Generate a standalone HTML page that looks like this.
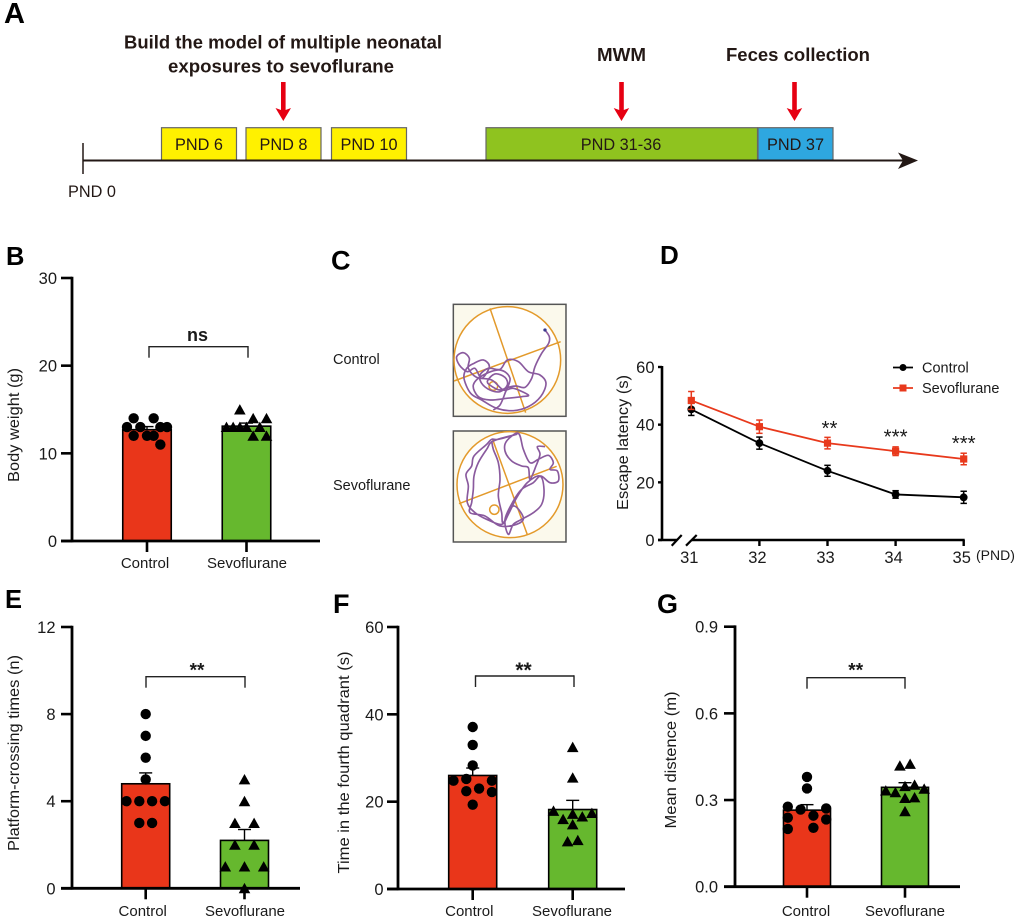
<!DOCTYPE html>
<html lang="en">
<head>
<meta charset="utf-8">
<title>Multi-panel figure: neonatal sevoflurane exposure</title>
<style>
html,body{margin:0;padding:0;background:#fff;}
svg{display:block;font-family:"Liberation Sans",Arial,sans-serif;}
text{fill:#1a1a1a;}
#panel-a text{fill:#231815;}
#panel-labels text{fill:#000;}
</style>
</head>
<body>
<svg id="figure" width="1020" height="920" viewBox="0 0 1020 920" xmlns="http://www.w3.org/2000/svg">
  <rect width="1020" height="920" fill="#fff"/>

  <g id="panel-labels" font-weight="700">
    <text x="4" y="23" font-size="29">A</text>
    <text x="6" y="265" font-size="25.5">B</text>
    <text x="331" y="269.5" font-size="27">C</text>
    <text x="660" y="264" font-size="26">D</text>
    <text x="5" y="608" font-size="25.5">E</text>
    <text x="333" y="613" font-size="27">F</text>
    <text x="657" y="613" font-size="27">G</text>
  </g>

  <g id="panel-a">
    <rect x="161.5" y="127.7" width="75" height="33" fill="#fff100" stroke="#666" stroke-width="1.2"/>
    <rect x="246" y="127.7" width="75" height="33" fill="#fff100" stroke="#666" stroke-width="1.2"/>
    <rect x="331.5" y="127.7" width="75" height="33" fill="#fff100" stroke="#666" stroke-width="1.2"/>
    <rect x="486" y="127.7" width="271.5" height="33" fill="#8fc31f" stroke="#666" stroke-width="1.2"/>
    <rect x="758" y="127.7" width="75" height="33" fill="#2ea7e0" stroke="#666" stroke-width="1.2"/>
    <line x1="83" y1="160.5" x2="905" y2="160.5" stroke="#231815" stroke-width="2"/>
    <line x1="83" y1="143" x2="83" y2="174" stroke="#231815" stroke-width="1.5"/>
    <polygon points="898,152.5 918,160.5 898,169 903,160.5" fill="#231815"/>
    <g font-size="16.3" text-anchor="middle">
      <text x="199" y="150">PND 6</text>
      <text x="283.5" y="150">PND 8</text>
      <text x="369" y="150">PND 10</text>
      <text x="621" y="150">PND 31-36</text>
      <text x="795.5" y="150">PND 37</text>
      <text x="92" y="197">PND 0</text>
    </g>
    <g font-size="18.5" font-weight="700">
      <text x="124" y="48.5" textLength="318" lengthAdjust="spacingAndGlyphs">Build the model of multiple neonatal</text>
      <text x="168" y="72.5" textLength="226" lengthAdjust="spacingAndGlyphs">exposures to sevoflurane</text>
      <text x="597" y="61" textLength="49" lengthAdjust="spacingAndGlyphs">MWM</text>
      <text x="726" y="61" textLength="144" lengthAdjust="spacingAndGlyphs">Feces collection</text>
    </g>
    <polygon points="281,82 285.6,82 285.6,110 291,108 283.3,121 275.5,108 281,110" fill="#e60012"/>
    <polygon points="619.2,82 623.8,82 623.8,110 629.2,108 621.5,121 613.7,108 619.2,110" fill="#e60012"/>
    <polygon points="792.2,82 796.8,82 796.8,110 802.2,108 794.5,121 786.7,108 792.2,110" fill="#e60012"/>
  </g>

  <g id="panel-c">
    <text x="333" y="364" font-size="14.5">Control</text>
    <text x="333" y="490" font-size="14.5">Sevoflurane</text>

    <g transform="translate(450,300) scale(0.3333)">
      <rect x="10" y="13" width="338" height="336" fill="#fbf9ec" stroke="#555" stroke-width="4.5"/>
      <circle cx="172" cy="180" r="160" fill="#fff" stroke="#e39a2b" stroke-width="4.5"/>
      <line x1="120" y1="25" x2="227" y2="338" stroke="#e39a2b" stroke-width="4.5"/>
      <line x1="12" y1="243" x2="332" y2="125" stroke="#e39a2b" stroke-width="4.5"/>
      <circle cx="130" cy="258" r="13" fill="none" stroke="#e39a2b" stroke-width="4.5"/>
      <path id="track-control" fill="none" stroke="#8a5a9e" stroke-width="5" stroke-linejoin="round"/>
      <circle cx="285" cy="90" r="5" fill="#3a3a8c"/>
    </g>

    <g transform="translate(450,426) scale(0.3333)">
      <rect x="10" y="15" width="338" height="333" fill="#fbf9ec" stroke="#555" stroke-width="4.5"/>
      <circle cx="180" cy="176" r="159" fill="#fff" stroke="#e39a2b" stroke-width="4.5"/>
      <line x1="127" y1="38" x2="232" y2="326" stroke="#e39a2b" stroke-width="4.5"/>
      <line x1="27" y1="233" x2="320" y2="121" stroke="#e39a2b" stroke-width="4.5"/>
      <circle cx="133" cy="251" r="14" fill="none" stroke="#e39a2b" stroke-width="4.5"/>
      <path id="track-sevo" fill="none" stroke="#8a5a9e" stroke-width="5" stroke-linejoin="round"/>
    </g>
  </g>

  <g id="charts"></g>
</svg>

<script>
// Shared categories
const categories = ['Control', 'Sevoflurane'];

// Panel B: body weight
const bTicks = [0, 10, 20, 30];
const bMeans = [12.7, 13.1];
const bErrors = [0.35, 0.35];
const bControlPoints = [14, 14, 13, 13, 13, 13, 12, 12, 12, 11];
const bControlSlots = [-2, 1, -3, -1, 2, 3, -2, 0, 1, 2];
const bSevoPoints = [15, 14, 14, 13, 13, 13, 13, 13, 12, 12];
const bSevoSlots = [-1, 1, 3, -3, -2, -1, 0, 2, 1, 3];

// Panel D: escape latency
const dDays = ['31', '32', '33', '34', '35'];
const dTicks = [0, 20, 40, 60];
const dControl = [45.3, 33.6, 24, 15.8, 14.8];
const dControlErr = [2.1, 2.1, 1.9, 1.3, 2.1];
const dSevo = [48.4, 39.3, 33.6, 30.8, 28.1];
const dSevoErr = [3.1, 2.3, 2, 1.5, 2];
const dStars = ['', '', '**', '***', '***'];
const dStarHeights = [0, 0, 39, 36, 33.8];

// Panel E: platform crossings
const eTicks = [0, 4, 8, 12];
const eMeans = [4.8, 2.2];
const eErrors = [0.5, 0.5];
const eControlPoints = [8, 7, 6, 5, 4, 4, 4, 4, 3, 3];
const eControlSlots = [0, 0, 0, 0, -3, -1, 1, 3, -1, 1];
const eSevoPoints = [5, 4, 3, 3, 2, 2, 1, 1, 1, 0];
const eSevoSlots = [0, 0, -1.5, 1.5, -1.5, 1.5, -3, 0, 3, 0];

// Panel F: time in fourth quadrant
const fTicks = [0, 20, 40, 60];
const fMeans = [26, 18.2];
const fErrors = [1.7, 2.1];
const fControlPoints = [37.1, 33, 28.3, 24.8, 25.2, 24.8, 23, 22.4, 22.2, 19.3];
const fControlSlots = [0, 0, 0, -3, -1, 3, 1, -1, 3, 0];
const fSevoPoints = [32.5, 25.5, 17.9, 17.4, 17.2, 16.6, 16, 14.8, 10.9, 11.2];
const fSevoSlots = [0, 0, -3, 3, 0, 1.5, -1.5, 0, -0.8, 0.8];

// Panel G: mean distance
const gTicks = [0, 0.3, 0.6, 0.9];
const gTickLabels = ['0.0', '0.3', '0.6', '0.9'];
const gMeans = [0.265, 0.344];
const gErrors = [0.019, 0.016];
const gControlPoints = [0.38, 0.34, 0.277, 0.271, 0.267, 0.239, 0.246, 0.233, 0.2, 0.204];
const gControlSlots = [0, 0, -3, 3, -1, -3, 1, 3, -3, 1];
const gSevoPoints = [0.419, 0.425, 0.348, 0.353, 0.333, 0.339, 0.327, 0.307, 0.309, 0.261];
const gSevoSlots = [-0.8, 0.8, 0, 1.5, -3, 3, -1.5, 0, 1.5, 0];

// Illustration: swim trajectories (crop coordinates, not chart data)
const trackControl = [[285,90],[298,110],[296,130],[275,160],[255,200],[245,235],[225,262],[198,258],[175,262],[150,270],[130,262],[112,245],[135,222],[165,232],[172,255],[150,275],[120,270],[95,250],[90,225],[115,205],[150,208],[172,180],[205,185],[235,215],[270,225],[288,250],[272,290],[235,320],[190,332],[140,325],[95,300],[62,280],[42,235],[50,205],[72,190],[100,180],[118,200],[95,235],[75,205],[52,215],[28,195],[20,170],[40,158],[58,175],[55,205],[80,232],[125,240],[160,270],[190,265],[235,285],[215,290],[170,295],[120,300],[85,290],[70,255],[100,225],[150,210],[180,235],[165,280],[150,315],[130,330]];
const trackSevo = [[285,62],[262,62],[270,85],[258,120],[240,160],[235,125],[215,120],[185,105],[165,75],[170,45],[205,22],[220,70],[240,110],[265,100],[295,88],[310,110],[300,130],[322,135],[325,165],[300,170],[272,150],[250,170],[215,190],[190,225],[165,280],[175,325],[190,295],[215,280],[250,260],[275,235],[282,190],[270,150],[232,170],[200,215],[175,265],[155,295],[110,280],[75,260],[52,230],[55,180],[48,145],[65,120],[72,90],[110,55],[125,40],[145,40],[200,25],[130,45],[110,70],[85,110],[72,150],[70,190],[65,230],[60,260],[105,270],[150,300],[200,295],[220,275],[190,240],[160,290],[155,260],[145,210],[150,160],[145,110],[130,70],[125,45]];

const NS = 'http://www.w3.org/2000/svg';
const BLACK = '#000';
const RED = '#e9361a';
const GREEN = '#66b82e';

function smoothPath(pts) {
  let d = 'M' + pts[0][0] + ' ' + pts[0][1];
  for (let i = 0; i < pts.length - 1; i++) {
    const p0 = pts[Math.max(i - 1, 0)];
    const p1 = pts[i];
    const p2 = pts[i + 1];
    const p3 = pts[Math.min(i + 2, pts.length - 1)];
    d += ' C' + (p1[0] + (p2[0] - p0[0]) / 6) + ' ' + (p1[1] + (p2[1] - p0[1]) / 6) +
         ' ' + (p2[0] - (p3[0] - p1[0]) / 6) + ' ' + (p2[1] - (p3[1] - p1[1]) / 6) +
         ' ' + p2[0] + ' ' + p2[1];
  }
  return d;
}
document.getElementById('track-control').setAttribute('d', smoothPath(trackControl));
document.getElementById('track-sevo').setAttribute('d', smoothPath(trackSevo));

function addGroup(parent, name) {
  const e = document.createElementNS(NS, 'g');
  
  
  parent.appendChild(e);
  return e;
}
function addLine(parent, name, x1, y1, x2, y2, w, color) {
  const e = document.createElementNS(NS, 'line');
  
  
  e.setAttribute('x1', x1);
  e.setAttribute('y1', y1);
  e.setAttribute('x2', x2);
  e.setAttribute('y2', y2);
  e.setAttribute('stroke', color);
  e.setAttribute('stroke-width', w);
  parent.appendChild(e);
  return e;
}
function addText(parent, name, str, x, y, size, anchor, opts) {
  const e = document.createElementNS(NS, 'text');
  
  
  e.setAttribute('x', x);
  e.setAttribute('y', y);
  e.setAttribute('font-size', size);
  e.setAttribute('text-anchor', anchor);
  if (opts && opts.bold) e.setAttribute('font-weight', '700');
  if (opts && opts.rotate) e.setAttribute('transform', 'rotate(-90 ' + x + ' ' + y + ')');
  if (opts && opts.length) {
    e.setAttribute('textLength', opts.length);
    e.setAttribute('lengthAdjust', 'spacingAndGlyphs');
  }
  e.textContent = str;
  parent.appendChild(e);
  return e;
}
function addCircle(parent, name, cx, cy, r, color) {
  const e = document.createElementNS(NS, 'circle');
  
  
  e.setAttribute('cx', cx);
  e.setAttribute('cy', cy);
  e.setAttribute('r', r);
  e.setAttribute('fill', color);
  parent.appendChild(e);
  return e;
}
function addTriangle(parent, name, cx, cy, color) {
  const e = document.createElementNS(NS, 'polygon');
  
  
  e.setAttribute('points', (cx - 5.8) + ',' + (cy + 5) + ' ' + (cx + 5.8) + ',' + (cy + 5) + ' ' + cx + ',' + (cy - 5.4));
  e.setAttribute('fill', color);
  parent.appendChild(e);
  return e;
}
function addRect(parent, name, x, y, w, h, fill, stroke, sw) {
  const e = document.createElementNS(NS, 'rect');
  
  
  e.setAttribute('x', x);
  e.setAttribute('y', y);
  e.setAttribute('width', w);
  e.setAttribute('height', h);
  e.setAttribute('fill', fill);
  if (stroke) {
    e.setAttribute('stroke', stroke);
    e.setAttribute('stroke-width', sw);
  }
  parent.appendChild(e);
  return e;
}

function barPanel(c) {
  const g = addGroup(document.getElementById('charts'), c.name);
  const y = v => c.bottom - v / c.max * (c.bottom - c.top);
  const colors = [RED, GREEN];
  c.means.forEach((m, i) => {
    const x = c.centers[i];
    addRect(g, categories[i].toLowerCase() + '-bar', x - c.barW / 2, y(m), c.barW, c.bottom - y(m), colors[i], BLACK, 1.6);
    addLine(g, categories[i].toLowerCase() + '-error-stem', x, y(m), x, y(m + c.errors[i]), 1.4, BLACK);
    addLine(g, categories[i].toLowerCase() + '-error-cap', x - 6.5, y(m + c.errors[i]), x + 6.5, y(m + c.errors[i]), 1.4, BLACK);
  });
  addLine(g, 'y-axis', c.axisX, c.top - 1.3, c.axisX, c.bottom + 1.3, 2.8, BLACK);
  addLine(g, 'x-axis', c.axisX - 11, c.bottom, c.axisEnd, c.bottom, 2.8, BLACK);
  c.ticks.forEach((t, i) => {
    addLine(g, 'y-tick', c.axisX - 11, y(t), c.axisX, y(t), 2.6, BLACK);
    addText(g, 'y-tick-label', c.tickLabels ? c.tickLabels[i] : String(t), c.tickRight, y(t) + 6, 16.5, 'end');
  });
  categories.forEach((name, i) => {
    addLine(g, 'x-tick', c.centers[i], c.bottom, c.centers[i], c.bottom + 11, 2.6, BLACK);
    addText(g, 'x-tick-label', name, c.labelX[i], c.labelY, 15, 'middle');
  });
  addText(g, 'y-axis-title', c.title, c.titleX, c.titleY, 16, 'middle', {rotate: true, length: c.titleLen});
  c.controlPoints.forEach((v, i) => {
    addCircle(g, 'control-point', c.centers[0] + c.controlSlots[i] * c.step, y(v), 5.2, BLACK);
  });
  c.sevoPoints.forEach((v, i) => {
    addTriangle(g, 'sevoflurane-point', c.centers[1] + c.sevoSlots[i] * c.step, y(v), BLACK);
  });
  const b = c.bracket;
  addLine(g, 'bracket-top', b.x1, b.y, b.x2, b.y, 1.4, '#222');
  addLine(g, 'bracket-left-leg', b.x1, b.y - 0.7, b.x1, b.y + 11, 1.4, '#222');
  addLine(g, 'bracket-right-leg', b.x2, b.y - 0.7, b.x2, b.y + 11, 1.4, '#222');
  addText(g, 'significance-label', b.label, b.cx, b.textY, b.size, 'middle', {bold: true});
}

barPanel({
  name: 'body-weight-chart', top: 278, bottom: 541, max: 30, axisX: 72, axisEnd: 320, tickRight: 57,
  centers: [147, 246.5], barW: 48.5, labelX: [145, 247], labelY: 568, step: 6.67,
  ticks: bTicks, means: bMeans, errors: bErrors,
  controlPoints: bControlPoints, controlSlots: bControlSlots, sevoPoints: bSevoPoints, sevoSlots: bSevoSlots,
  title: 'Body weight (g)', titleX: 19, titleY: 425, titleLen: 114,
  bracket: {x1: 149, x2: 248, y: 346.7, label: 'ns', cx: 197.5, textY: 341, size: 18}
});
barPanel({
  name: 'platform-crossing-chart', top: 627, bottom: 888.3, max: 12, axisX: 72, axisEnd: 300, tickRight: 55.5,
  centers: [145.7, 244.5], barW: 48, labelX: [142.7, 245], labelY: 916, step: 6.4,
  ticks: eTicks, means: eMeans, errors: eErrors,
  controlPoints: eControlPoints, controlSlots: eControlSlots, sevoPoints: eSevoPoints, sevoSlots: eSevoSlots,
  title: 'Platform-crossing times (n)', titleX: 19, titleY: 753, titleLen: 196,
  bracket: {x1: 146, x2: 245, y: 676.7, label: '**', cx: 197, textY: 676.5, size: 19}
});
barPanel({
  name: 'fourth-quadrant-time-chart', top: 627, bottom: 889, max: 60, axisX: 398, axisEnd: 625, tickRight: 383.5,
  centers: [472.7, 572.7], barW: 48, labelX: [469.3, 572], labelY: 916, step: 6.4,
  ticks: fTicks, means: fMeans, errors: fErrors,
  controlPoints: fControlPoints, controlSlots: fControlSlots, sevoPoints: fSevoPoints, sevoSlots: fSevoSlots,
  title: 'Time in the fourth quadrant (s)', titleX: 349, titleY: 762.5, titleLen: 222,
  bracket: {x1: 475.5, x2: 574, y: 676, label: '**', cx: 523.5, textY: 677, size: 21}
});
barPanel({
  name: 'mean-distance-chart', top: 626.7, bottom: 886.7, max: 0.9, axisX: 735, axisEnd: 960, tickRight: 718,
  centers: [807, 905], barW: 47, labelX: [806, 905], labelY: 916, step: 6.4,
  ticks: gTicks, tickLabels: gTickLabels, means: gMeans, errors: gErrors,
  controlPoints: gControlPoints, controlSlots: gControlSlots, sevoPoints: gSevoPoints, sevoSlots: gSevoSlots,
  title: 'Mean distence (m)', titleX: 676, titleY: 760, titleLen: 137,
  bracket: {x1: 807, x2: 905, y: 677.7, label: '**', cx: 855.7, textY: 676.5, size: 19}
});

// Panel D
(function () {
  const g = addGroup(document.getElementById('charts'), 'escape-latency-chart');
  const top = 367, bottom = 540, max = 60;
  const y = v => bottom - v / max * (bottom - top);
  const x = i => 691.3 + i * 68.1;
  const SEVO = '#e8391c';

  addLine(g, 'y-axis', 662, top - 1, 662, bottom + 1, 2.6, BLACK);
  addLine(g, 'x-axis-left-segment', 658, bottom, 677, bottom, 2.6, BLACK);
  addLine(g, 'x-axis-right-segment', 692, bottom, x(4) + 1, bottom, 2.6, BLACK);
  addLine(g, 'x-axis-break-mark-left', 671.7, 545.7, 681.7, 535, 2.2, BLACK);
  addLine(g, 'x-axis-break-mark-right', 686, 545.7, 696.7, 535, 2.2, BLACK);

  dTicks.forEach(t => {
    addLine(g, 'y-tick', 658, y(t), 662, y(t), 2.4, BLACK);
    addText(g, 'y-tick-label', String(t), 654.5, y(t) + 6, 16.5, 'end');
  });
  dDays.forEach((d, i) => {
    if (i > 0) addLine(g, 'x-tick', x(i), bottom, x(i), bottom + 6, 2.4, BLACK);
    addText(g, 'x-tick-label', d, x(i) - 2, 563, 16.5, 'middle');
  });
  addText(g, 'x-axis-unit', '(PND)', 976, 560, 14, 'start');
  addText(g, 'y-axis-title', 'Escape latency (s)', 628, 442.5, 16, 'middle', {rotate: true, length: 135});

  function series(values, errs, color, marker, label) {
    const sg = addGroup(g, label + '-series');
    const line = document.createElementNS(NS, 'polyline');
    
    
    line.setAttribute('points', values.map((v, i) => x(i) + ',' + y(v)).join(' '));
    line.setAttribute('fill', 'none');
    line.setAttribute('stroke', color);
    line.setAttribute('stroke-width', 1.8);
    sg.appendChild(line);
    values.forEach((v, i) => {
      addLine(sg, label + '-error-bar', x(i), y(v - errs[i]), x(i), y(v + errs[i]), 1.5, color);
      addLine(sg, label + '-error-cap', x(i) - 3.2, y(v + errs[i]), x(i) + 3.2, y(v + errs[i]), 1.5, color);
      addLine(sg, label + '-error-cap', x(i) - 3.2, y(v - errs[i]), x(i) + 3.2, y(v - errs[i]), 1.5, color);
      marker(sg, x(i), y(v));
    });
  }
  series(dControl, dControlErr, BLACK, (p, cx, cy) => addCircle(p, 'control-marker', cx, cy, 3.9, BLACK), 'control');
  series(dSevo, dSevoErr, SEVO, (p, cx, cy) => addRect(p, 'sevoflurane-marker', cx - 3.6, cy - 3.6, 7.2, 7.2, SEVO), 'sevoflurane');

  dStars.forEach((s, i) => {
    if (s) addText(g, 'significance-label', s, x(i) + (i === 2 ? 2 : 0), y(dStarHeights[i]) + 7.5, 20.5, 'middle');
  });

  const lg = addGroup(g, 'legend');
  addLine(lg, 'legend-control-line', 893, 367.5, 913, 367.5, 1.8, BLACK);
  addCircle(lg, 'legend-control-marker', 903, 367.5, 3.5, BLACK);
  addText(lg, 'legend-control-label', categories[0], 922, 372.5, 14.5, 'start');
  addLine(lg, 'legend-sevoflurane-line', 893, 388, 913, 388, 1.8, SEVO);
  addRect(lg, 'legend-sevoflurane-marker', 899.5, 384.5, 7, 7, SEVO);
  addText(lg, 'legend-sevoflurane-label', categories[1], 922, 393, 14.5, 'start');
})();
</script>
</body>
</html>
